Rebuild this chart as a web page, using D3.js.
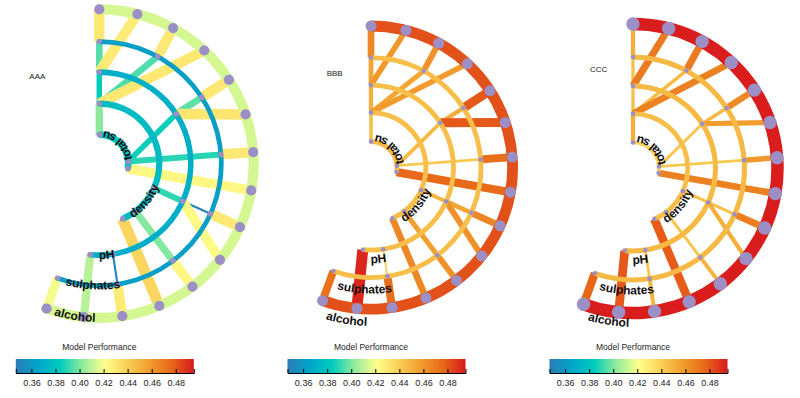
<!DOCTYPE html>
<html><head><meta charset="utf-8">
<script src="https://cdn.jsdelivr.net/npm/d3@7"></script>
<style>
body{margin:0;background:#fff;}
text{font-family:"Liberation Sans",Arial,sans-serif;}
</style>
</head><body>
<svg id="chart" width="800" height="398"></svg>
<script>
// ---------------- data ----------------
const features = ["total su", "density", "pH", "sulphates", "alcohol"]; // ring 1 .. ring 5
const panelNames = ["AAA", "BBB", "CCC"];
const legendTitle = "Model Performance";
const colorTicks = [0.36, 0.38, 0.40, 0.42, 0.44, 0.46, 0.48];
const colorDomain = [0.347, 0.495];
const palette = ["#2c7bb6","#00a6ca","#00ccbc","#90eb9d","#ffff8c","#f9d057","#f29e2e","#e76818","#d7191c"];

// nodes as "ring-slot" (slot = angular position, 0..14 over the half-ring)
const nodeKeys = [
  "5-0","5-1","5-2","5-3","5-4","5-5","5-6","5-7","5-8","5-9","5-10","5-11","5-12","5-13","5-14",
  "4-0","4-2","4-4","4-6","4-8","4-10","4-12","4-14",
  "3-0","3-4","3-8","3-12","3-13",
  "2-0","2-8","2-10","2-11",
  "1-0","1-6","1-7"
];
// links: child -> parent
const edgeFrom = ["5-0","4-0","3-0","2-0","5-1","5-2","4-2","5-3","5-4","4-4","5-5","3-4","5-6",
                  "4-6","5-7","5-8","4-8","3-8","5-9","5-10","4-10","5-11","5-12","4-12","5-13","5-14"];
const edgeTo   = ["4-0","3-0","2-0","1-0","3-0","4-2","2-0","2-0","4-4","3-4","3-4","1-6","4-6",
                  "1-6","1-7","4-8","3-8","2-8","3-8","4-10","2-10","2-11","4-12","3-12","3-13","4-14"];

// model performance of each link, per panel
const edgePerfA = [0.430,0.395,0.384,0.402,0.429,0.430,0.394,0.430,0.430,0.396,0.431,0.385,0.430,
                   0.389,0.424,0.430,0.350,0.390,0.423,0.424,0.401,0.437,0.429,0.351,0.409,0.419];
const edgePerfB = [0.466,0.455,0.452,0.447,0.460,0.462,0.455,0.459,0.480,0.452,0.480,0.448,0.474,
                   0.442,0.476,0.466,0.455,0.450,0.462,0.462,0.457,0.466,0.474,0.438,0.492,0.473];
const edgePerfC = [0.452,0.446,0.446,0.452,0.470,0.470,0.447,0.468,0.465,0.448,0.458,0.444,0.460,
                   0.443,0.468,0.469,0.445,0.445,0.452,0.450,0.444,0.479,0.450,0.443,0.480,0.477];
// model performance of each feature ring (ring 1 .. ring 5), per panel
const ringPerfA = [0.381,0.376,0.370,0.362,0.414];
const ringPerfB = [0.446,0.446,0.446,0.446,0.482];
const ringPerfC = [0.438,0.446,0.448,0.448,0.494];

const edgePerf = [edgePerfA, edgePerfB, edgePerfC];
const ringPerf = [ringPerfA, ringPerfB, ringPerfC];

// ---------------- layout ----------------
const layout = [
  {cx: 99.3, cy: 163.6, radii: [29, 60, 91.5, 122, 154.3], dotR: [2.8, 5.1], title: [29.3, 79]},
  {cx: 371,  cy: 167.6, radii: [26, 55, 82.5, 110, 141.6], dotR: [2.3, 5.5], title: [326.7, 76]},
  {cx: 633,  cy: 168.5, radii: [26, 54.8, 82.5, 111.5, 144.5], dotR: [2.3, 6.7], title: [590, 72]}
];
const labelRadii = [29, 60, 91.5, 122, 154.3];
const dotColor = "#9b8fc6";

const svg = d3.select("#chart");
const angle = d3.scaleLinear().domain([0, 14]).range([0, 200 * Math.PI / 180]);
const color = d3.scaleLinear()
  .domain(d3.range(palette.length).map(i => colorDomain[0] + i * (colorDomain[1] - colorDomain[0]) / (palette.length - 1)))
  .range(palette)
  .clamp(true);

// gradient for legend
const defs = svg.append("defs");
const grad = defs.append("linearGradient").attr("id", "perfGrad").attr("x1", "0%").attr("x2", "100%");
palette.forEach((c, i) => grad.append("stop").attr("offset", (i / (palette.length - 1) * 100) + "%").attr("stop-color", c));

const nodes = nodeKeys.map(k => { const [r, s] = k.split("-").map(Number); return {key: k, ring: r, slot: s}; });

layout.forEach((L, p) => {
  const g = svg.append("g").attr("transform", `translate(${L.cx},${L.cy})`);
  const radius = d3.scaleOrdinal().domain([1, 2, 3, 4, 5]).range(L.radii);
  const allVals = edgePerf[p].concat(ringPerf[p]);
  const width = d3.scaleLinear().domain(d3.extent(allVals)).range([2, 11]);
  const pos = key => { const n = nodes.find(d => d.key === key); return d3.pointRadial(angle(n.slot), radius(n.ring)); };

  // links
  g.append("g").selectAll("line").data(edgeFrom.map((f, i) => ({f, t: edgeTo[i], v: edgePerf[p][i]})))
    .join("line")
    .attr("x1", d => pos(d.f)[0]).attr("y1", d => pos(d.f)[1])
    .attr("x2", d => pos(d.t)[0]).attr("y2", d => pos(d.t)[1])
    .attr("stroke", d => color(d.v))
    .attr("stroke-width", d => width(d.v))
    .attr("stroke-linecap", "butt");

  // feature rings
  const ringEnd = features.map((f, i) => d3.max(nodes.filter(n => n.ring === i + 1), n => n.slot));
  g.append("g").selectAll("path").data(features.map((f, i) => ({ring: i + 1, v: ringPerf[p][i], end: ringEnd[i]})))
    .join("path")
    .attr("d", d => {
      const w = width(d.v) + 1.5;
      return d3.arc()({innerRadius: radius(d.ring) - w / 2, outerRadius: radius(d.ring) + w / 2,
                       startAngle: 0, endAngle: angle(d.end)});
    })
    .attr("fill", d => color(d.v));

  // nodes
  g.append("g").selectAll("circle").data(nodes).join("circle")
    .attr("cx", d => d3.pointRadial(angle(d.slot), radius(d.ring))[0])
    .attr("cy", d => d3.pointRadial(angle(d.slot), radius(d.ring))[1])
    .attr("r", d => d.ring === 5 ? L.dotR[1] : L.dotR[0])
    .attr("fill", dotColor);

  // ring labels (text along the ring, reading counter-clockwise from the ring end)
  features.forEach((f, i) => {
    const r = labelRadii[i] + 4;
    const a0 = angle(ringEnd[i]) - 9 / labelRadii[i];
    const a1 = a0 - 300 * Math.PI / 180;
    const [x0, y0] = d3.pointRadial(a0, r);
    const [x1, y1] = d3.pointRadial(a1, r);
    const id = `lbl${p}_${i}`;
    defs.append("path").attr("id", id)
      .attr("d", `M${L.cx + x0},${L.cy + y0} A${r},${r} 0 1 0 ${L.cx + x1},${L.cy + y1}`);
    svg.append("text").attr("font-size", 12).attr("font-weight", "bold").attr("fill", "#111")
      .append("textPath").attr("href", "#" + id).attr("startOffset", 0).text(f);
  });

  // panel title
  svg.append("text").attr("x", L.title[0]).attr("y", L.title[1]).attr("font-size", 8).attr("fill", "#222")
    .text(panelNames[p]);

  // legend
  const bx = L.cx - 83.5, bw = 178, by = 359, bh = 14;
  const lg = svg.append("g");
  lg.append("text").attr("x", L.cx).attr("y", 350).attr("text-anchor", "middle")
    .attr("font-size", 8.5).attr("fill", "#222").text(legendTitle);
  lg.append("rect").attr("x", bx).attr("y", by).attr("width", bw).attr("height", bh).attr("fill", "url(#perfGrad)");
  const xs = d3.scaleLinear().domain(colorDomain).range([bx, bx + bw]);
  const ax = lg.append("g").attr("transform", `translate(0,${by + bh})`)
    .call(d3.axisBottom(xs).tickValues(colorTicks).tickFormat(d3.format(".2f")).tickSizeInner(-4).tickSizeOuter(-4).tickPadding(7));
  ax.selectAll("text").attr("font-size", 9).attr("fill", "#222").attr("font-family", "'Liberation Sans',Arial,sans-serif");
  ax.selectAll("path,line").attr("stroke", "#000");
});
</script>
</body></html>
